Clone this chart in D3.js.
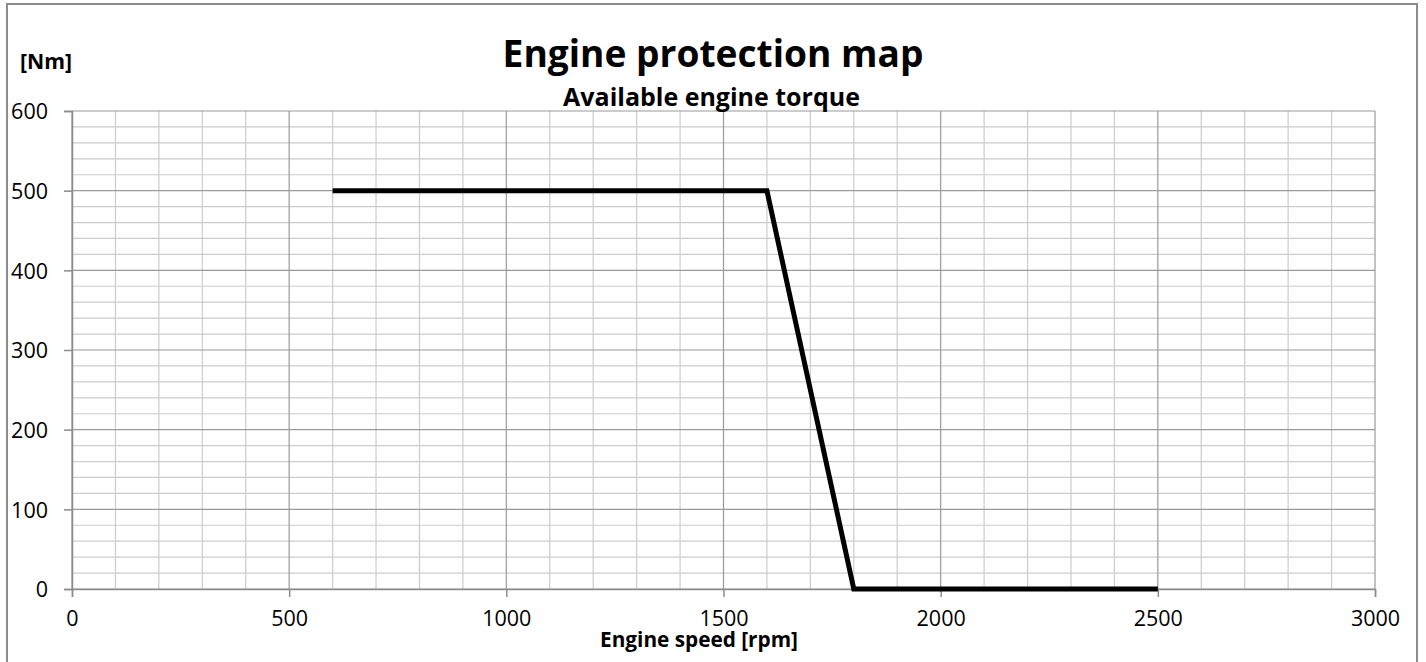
<!DOCTYPE html>
<html>
<head>
<meta charset="utf-8">
<script src="https://cdn.jsdelivr.net/npm/d3@7"></script>
<style>
  body { margin: 0; background: #fff; }
  text { font-family: "Open Sans", Lato, sans-serif; fill: #000; }
</style>
</head>
<body>
<script>
// engine protection curve (available torque vs engine speed)
var speed = [600, 1600, 1800, 2500];
var torque = [500, 500, 0, 0];
var xTicks = [0, 500, 1000, 1500, 2000, 2500, 3000];
var yTicks = [0, 100, 200, 300, 400, 500, 600];

var width = 1426, height = 662;
var svg = d3.select("body").append("svg")
    .attr("width", width)
    .attr("height", height);

// outer chart frame
svg.append("rect")
    .attr("x", 7).attr("y", 4)
    .attr("width", 1410).attr("height", 670)
    .attr("fill", "none")
    .attr("stroke", "#8c8c8c")
    .attr("stroke-width", 2);

var x = d3.scaleLinear().domain([0, 3000]).range([72, 1375]);
var y = d3.scaleLinear().domain([0, 600]).range([589, 111]);

// minor grid
svg.append("g").selectAll("line")
    .data(d3.range(0, 3001, 100).filter(function(d){ return d % 500 != 0; }))
    .enter().append("line")
    .attr("x1", function(d){ return x(d); }).attr("x2", function(d){ return x(d); })
    .attr("y1", y(0)).attr("y2", y(600))
    .attr("stroke", "#cccccc").attr("stroke-width", 1.2);
svg.append("g").selectAll("line")
    .data(d3.range(0, 601, 20).filter(function(d){ return d % 100 != 0; }))
    .enter().append("line")
    .attr("y1", function(d){ return y(d); }).attr("y2", function(d){ return y(d); })
    .attr("x1", x(0)).attr("x2", x(3000))
    .attr("stroke", "#cccccc").attr("stroke-width", 1.2);

// major grid
svg.append("g").selectAll("line")
    .data(xTicks)
    .enter().append("line")
    .attr("x1", function(d){ return x(d); }).attr("x2", function(d){ return x(d); })
    .attr("y1", y(0)).attr("y2", y(600))
    .attr("stroke", "#9a9a9a").attr("stroke-width", 1.2);
svg.append("g").selectAll("line")
    .data(yTicks)
    .enter().append("line")
    .attr("y1", function(d){ return y(d); }).attr("y2", function(d){ return y(d); })
    .attr("x1", x(0)).attr("x2", x(3000))
    .attr("stroke", "#9a9a9a").attr("stroke-width", 1.2);

// axes
var fmt = d3.format("d");
var xAxis = svg.append("g")
    .attr("transform", "translate(0," + y(0) + ")")
    .call(d3.axisBottom(x).tickValues(xTicks).tickFormat(fmt).tickSize(8));
var yAxis = svg.append("g")
    .attr("transform", "translate(" + x(0) + ",0)")
    .call(d3.axisLeft(y).tickValues(yTicks).tickFormat(fmt).tickSize(8).tickPadding(16));
[xAxis, yAxis].forEach(function(a){
    a.select(".domain").attr("stroke", "#8c8c8c").attr("stroke-width", 1.5);
    a.selectAll(".tick line").attr("stroke", "#8c8c8c").attr("stroke-width", 1.5);
    a.selectAll(".tick text").style("font-size", "21.5px").attr("fill", "#000");
});
xAxis.selectAll(".tick text").attr("y", 37).attr("dy", 0);
yAxis.selectAll(".tick text").attr("dy", "0.36em");

// the curve
var line = d3.line()
    .x(function(d, i){ return x(speed[i]); })
    .y(function(d, i){ return y(torque[i]); });
svg.append("path")
    .datum(speed)
    .attr("d", line)
    .attr("fill", "none")
    .attr("stroke", "#000")
    .attr("stroke-width", 5);

// scale a bold label so it spans the given width
function fitText(sel, w) {
    var len = sel.node().getComputedTextLength();
    var size = parseFloat(sel.style("font-size"));
    sel.style("font-size", (size * w / len) + "px");
}

// titles
svg.append("text")
    .attr("x", 713).attr("y", 67)
    .attr("text-anchor", "middle")
    .style("font-size", "36px").style("font-weight", "bold")
    .text("Engine protection map")
    .call(fitText, 421);
svg.append("text")
    .attr("x", 711.5).attr("y", 106)
    .attr("text-anchor", "middle")
    .style("font-size", "20px").style("font-weight", "bold")
    .text("Available engine torque")
    .call(fitText, 297);
svg.append("text")
    .attr("x", 20).attr("y", 69)
    .style("font-size", "18px").style("font-weight", "bold")
    .text("[Nm]")
    .call(fitText, 52);
svg.append("text")
    .attr("x", 699).attr("y", 647)
    .attr("text-anchor", "middle")
    .style("font-size", "18px").style("font-weight", "bold")
    .text("Engine speed [rpm]")
    .call(fitText, 198);
</script>
</body>
</html>
